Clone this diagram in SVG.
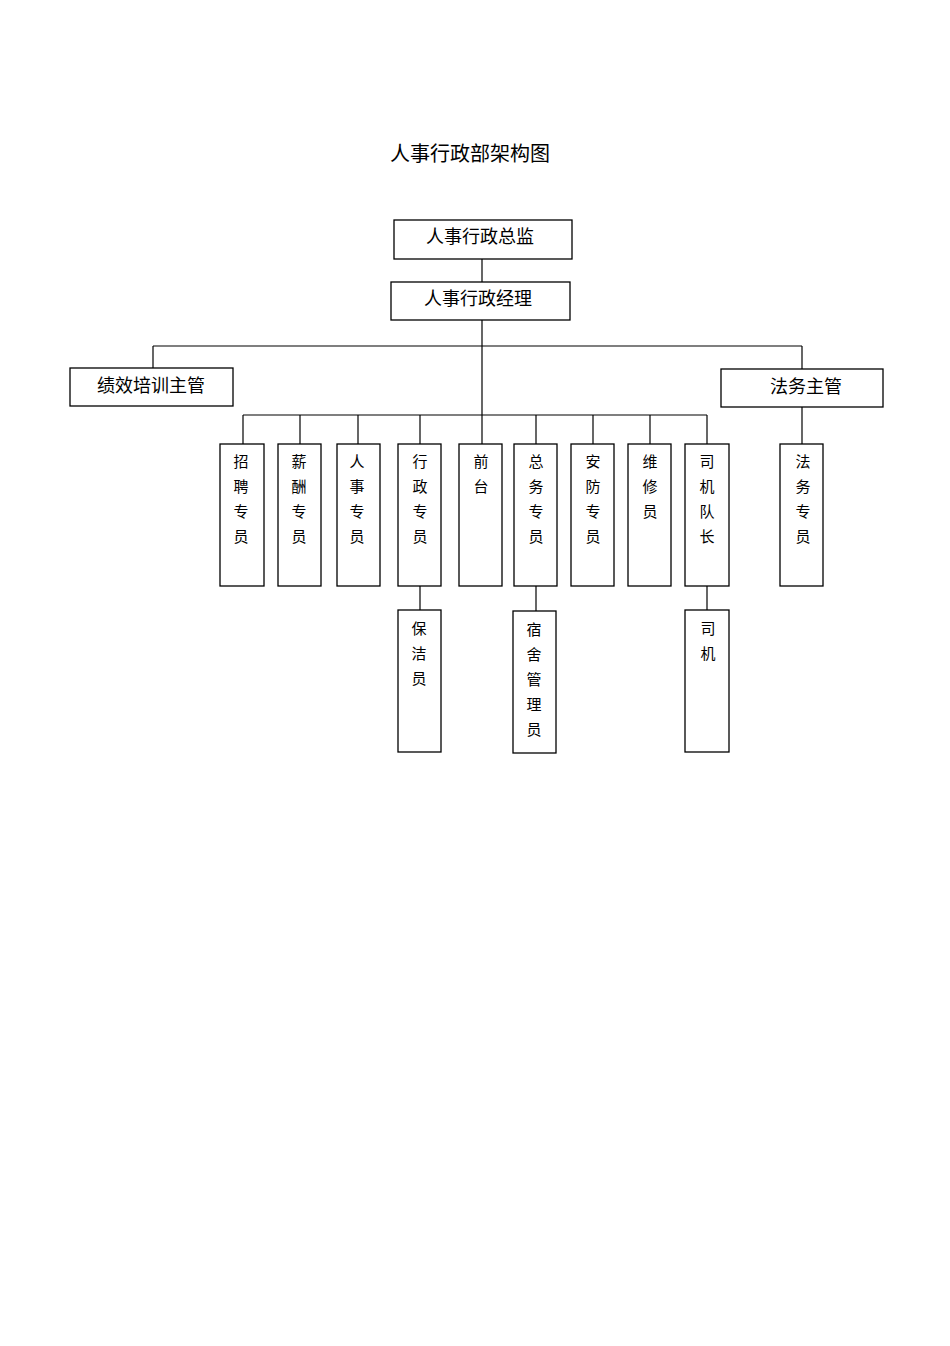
<svg xmlns="http://www.w3.org/2000/svg" width="950" height="1346" viewBox="0 0 950 1346">
<style>
rect{fill:#fff;stroke:#000;stroke-width:1.3}
text{font-family:"Liberation Serif","Noto Sans CJK SC",serif;fill:#000}
.b{font-size:18px;text-anchor:middle}
.v{font-size:15px;text-anchor:middle}
#c line{stroke:#000;stroke-width:1.2}
</style>
<rect width="950" height="1346" style="stroke:none"/>
<text x="470" y="161" style="font-size:20px;text-anchor:middle">人事行政部架构图</text>
<g id="c">
<line x1="482" y1="259" x2="482" y2="282"/>
<line x1="482" y1="320" x2="482" y2="444"/>
<line x1="153" y1="346" x2="802" y2="346"/>
<line x1="153" y1="346" x2="153" y2="368"/>
<line x1="802" y1="346" x2="802" y2="369"/>
<line x1="802" y1="407" x2="802" y2="444"/>
<line x1="243" y1="415" x2="707" y2="415"/>
<line x1="243" y1="415" x2="243" y2="444"/>
<line x1="300" y1="415" x2="300" y2="444"/>
<line x1="358" y1="415" x2="358" y2="444"/>
<line x1="420" y1="415" x2="420" y2="444"/>
<line x1="536" y1="415" x2="536" y2="444"/>
<line x1="593" y1="415" x2="593" y2="444"/>
<line x1="650" y1="415" x2="650" y2="444"/>
<line x1="707" y1="415" x2="707" y2="444"/>
<line x1="420" y1="586" x2="420" y2="610"/>
<line x1="536" y1="586" x2="536" y2="611"/>
<line x1="707" y1="586" x2="707" y2="610"/>
</g>
<g id="n1"><rect x="394" y="220" width="178" height="39"/><text class="b" x="480" y="243">人事行政总监</text></g>
<g id="n2"><rect x="391" y="282" width="179" height="38"/><text class="b" x="478" y="305">人事行政经理</text></g>
<g id="n3"><rect x="70" y="368" width="163" height="38"/><text class="b" x="151" y="392">绩效培训主管</text></g>
<g id="n4"><rect x="721" y="369" width="162" height="38"/><text class="b" x="806" y="393">法务主管</text></g>
<g id="n5"><rect x="220" y="444" width="44" height="142"/><text class="v" x="241" y="467">招<tspan x="241" dy="25">聘</tspan><tspan x="241" dy="25">专</tspan><tspan x="241" dy="25">员</tspan></text></g>
<g id="n6"><rect x="278" y="444" width="43" height="142"/><text class="v" x="299" y="467">薪<tspan x="299" dy="25">酬</tspan><tspan x="299" dy="25">专</tspan><tspan x="299" dy="25">员</tspan></text></g>
<g id="n7"><rect x="337" y="444" width="43" height="142"/><text class="v" x="357" y="467">人<tspan x="357" dy="25">事</tspan><tspan x="357" dy="25">专</tspan><tspan x="357" dy="25">员</tspan></text></g>
<g id="n8"><rect x="398" y="444" width="43" height="142"/><text class="v" x="420" y="467">行<tspan x="420" dy="25">政</tspan><tspan x="420" dy="25">专</tspan><tspan x="420" dy="25">员</tspan></text></g>
<g id="n9"><rect x="459" y="444" width="43" height="142"/><text class="v" x="481" y="467">前<tspan x="481" dy="25">台</tspan></text></g>
<g id="n10"><rect x="514" y="444" width="43" height="142"/><text class="v" x="536" y="467">总<tspan x="536" dy="25">务</tspan><tspan x="536" dy="25">专</tspan><tspan x="536" dy="25">员</tspan></text></g>
<g id="n11"><rect x="571" y="444" width="43" height="142"/><text class="v" x="593" y="467">安<tspan x="593" dy="25">防</tspan><tspan x="593" dy="25">专</tspan><tspan x="593" dy="25">员</tspan></text></g>
<g id="n12"><rect x="628" y="444" width="43" height="142"/><text class="v" x="650" y="467">维<tspan x="650" dy="25">修</tspan><tspan x="650" dy="25">员</tspan></text></g>
<g id="n13"><rect x="685" y="444" width="44" height="142"/><text class="v" x="707" y="467">司<tspan x="707" dy="25">机</tspan><tspan x="707" dy="25">队</tspan><tspan x="707" dy="25">长</tspan></text></g>
<g id="n14"><rect x="780" y="444" width="43" height="142"/><text class="v" x="803" y="467">法<tspan x="803" dy="25">务</tspan><tspan x="803" dy="25">专</tspan><tspan x="803" dy="25">员</tspan></text></g>
<g id="n15"><rect x="398" y="610" width="43" height="142"/><text class="v" x="419" y="634">保<tspan x="419" dy="25">洁</tspan><tspan x="419" dy="25">员</tspan></text></g>
<g id="n16"><rect x="513" y="611" width="43" height="142"/><text class="v" x="534" y="635">宿<tspan x="534" dy="25">舍</tspan><tspan x="534" dy="25">管</tspan><tspan x="534" dy="25">理</tspan><tspan x="534" dy="25">员</tspan></text></g>
<g id="n17"><rect x="685" y="610" width="44" height="142"/><text class="v" x="708" y="634">司<tspan x="708" dy="25">机</tspan></text></g>
</svg>
